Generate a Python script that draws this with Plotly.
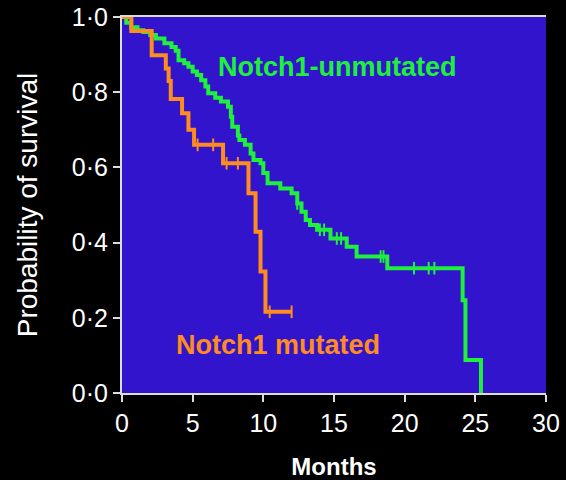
import plotly.graph_objects as go

# Kaplan-Meier survival estimates (months, survival probability)
unmut_t = [0, 0.3, 0.65, 1.1, 1.5, 2.0, 2.4, 3.0, 3.5, 3.8, 4.0, 4.4, 4.7, 5.0, 5.3, 5.6,
           5.9, 6.1, 6.6, 7.0, 7.5, 7.7, 7.8, 8.2, 8.3, 8.7, 9.1, 9.3, 9.8, 10.0, 10.3,
           11.2, 12.0, 12.4, 12.7, 13.0, 13.3, 13.8, 14.75, 15.9, 16.6, 18.77, 24.1, 24.3,
           25.4]
unmut_s = [1.0, 0.985, 0.973, 0.965, 0.96, 0.952, 0.943, 0.93, 0.92, 0.91, 0.885, 0.877,
           0.868, 0.855, 0.846, 0.832, 0.815, 0.797, 0.785, 0.775, 0.761, 0.735, 0.708,
           0.685, 0.673, 0.66, 0.637, 0.62, 0.611, 0.585, 0.558, 0.544, 0.531, 0.504,
           0.482, 0.46, 0.447, 0.434, 0.411, 0.389, 0.363, 0.332, 0.247, 0.088, 0.0]
unmut_cens_t = [12.4, 14.0, 14.3, 15.2, 15.5, 18.3, 18.5, 20.66, 21.7, 22.1]
unmut_cens_s = [0.504, 0.434, 0.434, 0.411, 0.411, 0.363, 0.363, 0.332, 0.332, 0.332]

mut_t = [0, 0.66, 2.1, 3.1, 3.3, 3.45, 4.25, 4.7, 5.1, 7.15, 8.95, 9.45, 9.8, 10.15, 12.0]
mut_s = [1.0, 0.963, 0.898, 0.863, 0.83, 0.782, 0.744, 0.70, 0.66, 0.611, 0.531, 0.429,
         0.323, 0.216, 0.216]
mut_cens_t = [5.35, 6.45, 7.4, 8.2, 10.45, 12.0]
mut_cens_s = [0.66, 0.66, 0.611, 0.611, 0.216, 0.216]

y_ticks = [0, 0.2, 0.4, 0.6, 0.8, 1.0]
y_labels = ["0·0", "0·2", "0·4", "0·6", "0·8", "1·0"]
x_ticks = [0, 5, 10, 15, 20, 25, 30]

GREEN = "#1ef03c"
ORANGE = "#ff8c1e"
AXIS = "#dcdcdc"
FONT = "Liberation Sans, Arial, sans-serif"


def censor_marks(x, y, color):
    return go.Scatter(x=x, y=y, mode="markers", hoverinfo="skip",
                      marker=dict(symbol="line-ns-open", size=9, color=color,
                                  line=dict(color=color, width=2)))


fig = go.Figure()
fig.add_trace(go.Scatter(x=unmut_t, y=unmut_s, mode="lines", line_shape="hv",
                         line=dict(color=GREEN, width=4), hoverinfo="skip"))
fig.add_trace(censor_marks(unmut_cens_t, unmut_cens_s, GREEN))
fig.add_trace(go.Scatter(x=mut_t, y=mut_s, mode="lines", line_shape="hv",
                         line=dict(color=ORANGE, width=4), hoverinfo="skip"))
fig.add_trace(censor_marks(mut_cens_t, mut_cens_s, ORANGE))

fig.add_annotation(x=15.25, y=0.866, text="<b>Notch1-unmutated</b>", showarrow=False,
                   font=dict(family=FONT, size=27, color=GREEN))
fig.add_annotation(x=11.06, y=0.128, text="<b>Notch1 mutated</b>", showarrow=False,
                   font=dict(family=FONT, size=27, color=ORANGE))

fig.update_layout(
    width=566, height=480,
    margin=dict(l=122, r=20, t=17, b=87),
    paper_bgcolor="black", plot_bgcolor="#3214cd",
    showlegend=False,
    font=dict(family=FONT, color="white"),
)
fig.update_xaxes(range=[0, 30], tickvals=x_ticks, showgrid=False, zeroline=False,
                 showline=True, linecolor=AXIS, linewidth=2, mirror=True,
                 ticks="outside", ticklen=7, tickwidth=2, tickcolor=AXIS,
                 automargin=False,
                 tickfont=dict(family=FONT, size=25, color="white"),
                 title=dict(text="<b>Months</b>", font=dict(family=FONT, size=24, color="white"),
                            standoff=22))
fig.update_yaxes(range=[0, 1.0], tickvals=y_ticks, ticktext=y_labels, showgrid=False,
                 zeroline=False, showline=True, linecolor=AXIS, linewidth=2,
                 ticks="outside", ticklen=7, tickwidth=2, tickcolor=AXIS,
                 automargin=False,
                 tickfont=dict(family=FONT, size=25, color="white"),
                 title=dict(text="Probability of survival",
                            font=dict(family=FONT, size=28, color="white"), standoff=26))

fig.write_html("out.html")
